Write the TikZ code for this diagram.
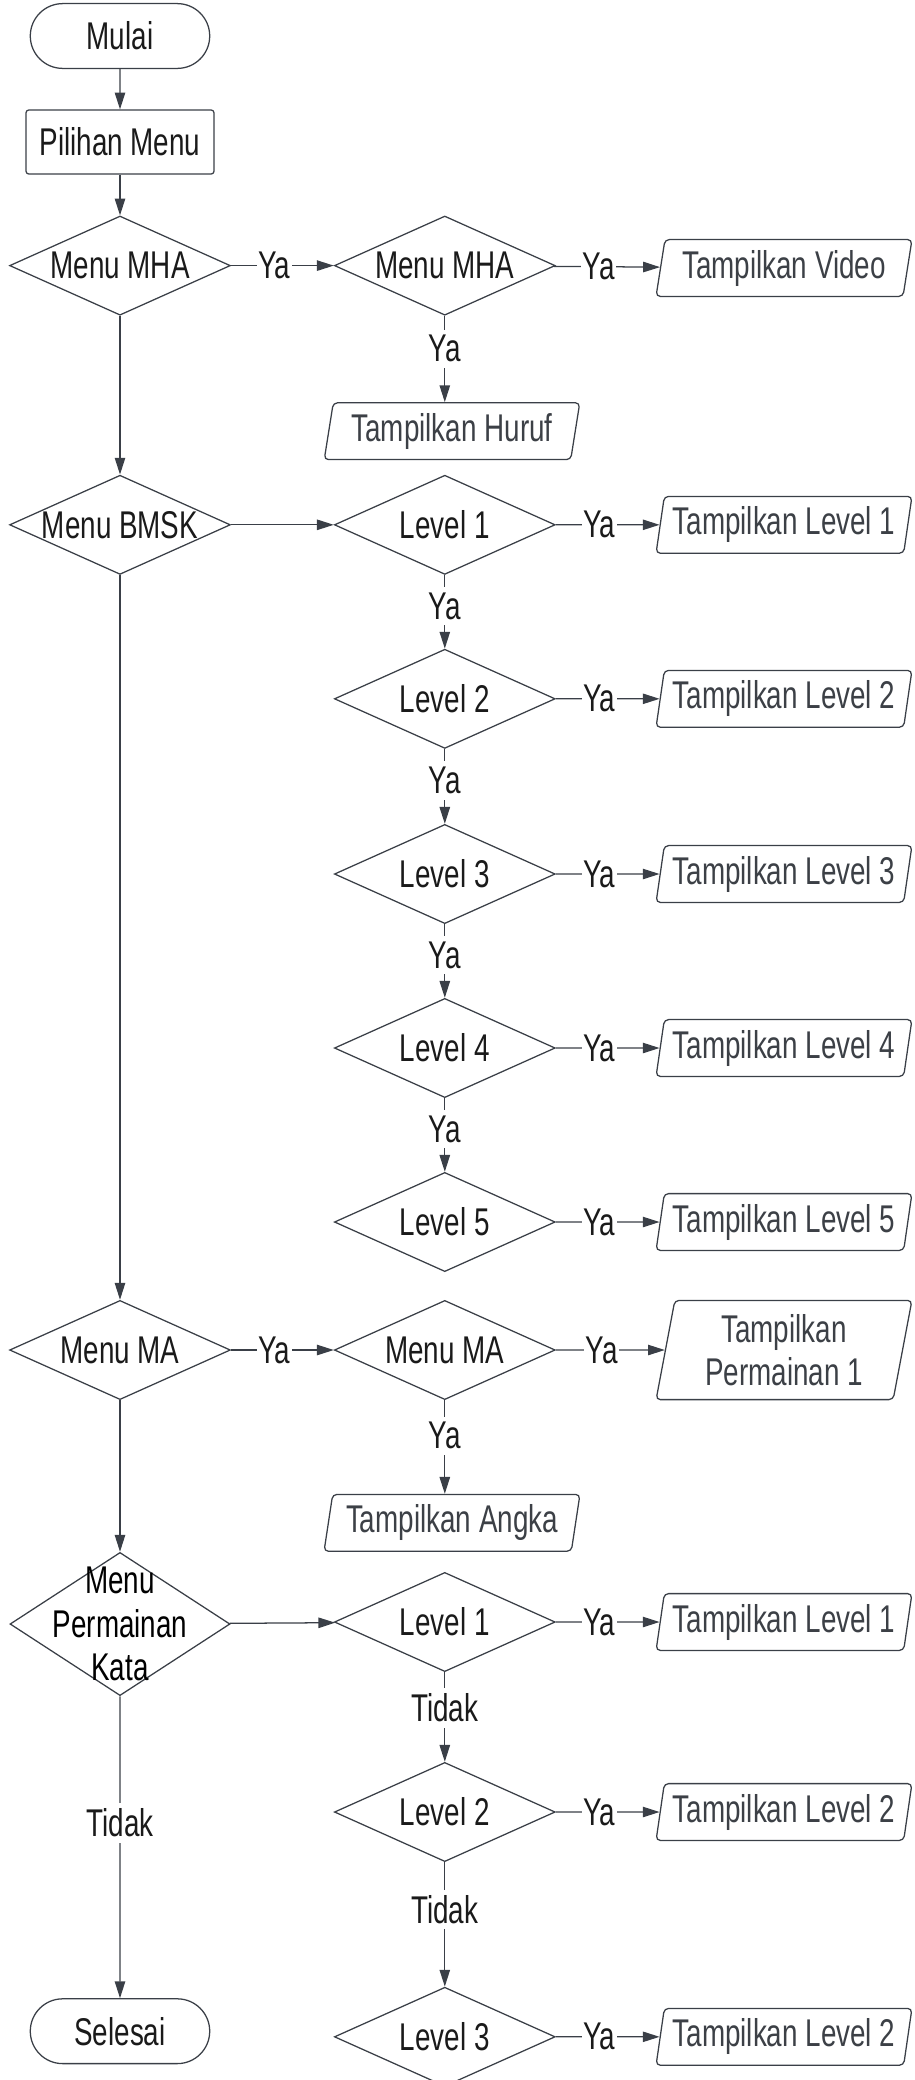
\documentclass[tikz,border=0pt]{standalone}
\usepackage{fontspec}
\setmainfont{Liberation Sans}[FakeStretch=0.72]
\usepackage{xcolor}
\definecolor{inkdark}{HTML}{1A1A1A}
\definecolor{linegray}{HTML}{3A3F47}
\definecolor{textgray}{HTML}{3C4046}
\usepackage{tikz}
\usetikzlibrary{positioning,arrows.meta,shapes.geometric,shapes.misc}

\begin{document}
\begin{tikzpicture}[
  font=\fontsize{27.5}{31}\selectfont,
  terminal/.style={
    draw=linegray, line width=0.9pt, rounded rectangle,
    minimum width=4.72cm, minimum height=1.62cm,
    text=inkdark,
  },
  procbox/.style={
    draw=linegray, line width=0.9pt, rounded corners=2pt,
    minimum width=4.7cm, minimum height=1.6cm,
    text=inkdark,
  },
  decision/.style={
    draw=linegray, line width=0.9pt,
    diamond, aspect=2.2, inner sep=0pt,
    minimum width=5.52cm, minimum height=2.48cm,
    text=inkdark,
  },
  output/.style={
    draw=linegray, line width=0.9pt,
    trapezium, trapezium left angle=80, trapezium right angle=100,
    trapezium stretches=true, rounded corners=3pt,
    minimum width=6.4cm, minimum height=1.42cm,
    text=textgray, align=center,
  },
  link/.style={draw=linegray, line width=0.9pt,
    -{Triangle[length=0.42cm,width=0.26cm]}},
  lbl/.style={fill=white, inner xsep=1pt, inner ysep=4pt, text=inkdark},
]
\useasboundingbox (0,0) rectangle (22.85,-52);

% === LEFT COLUMN: MAIN MENU ===
\node[terminal] (mulai) at (3.0,-0.9) {Mulai};
\node[procbox] (pilih) at (3.0,-3.55) {Pilihan Menu};
\node[decision] (mha) at (3.0,-6.64) {Menu MHA};
\node[decision] (bmsk) at (3.0,-13.12) {Menu BMSK};
\node[decision] (ma) at (3.0,-33.75) {Menu MA};
\node[decision, minimum width=5.5cm, minimum height=3.58cm,
  label={[align=center]center:Menu\\Permainan\\Kata}] (mpk) at (3.0,-40.6) {};
\node[terminal] (selesai) at (3.0,-50.78) {Selesai};

% === MIDDLE COLUMN: SUB MENUS AND LEVELS ===
\node[decision] (mha2) at (11.12,-6.64) {Menu MHA};
\node[output] (huruf) at (11.3,-10.78) {Tampilkan Huruf};

\node[decision] (bml1) at (11.12,-13.12) {Level 1};
\node[decision] (bml2) at (11.12,-17.47) {Level 2};
\node[decision] (bml3) at (11.12,-21.85) {Level 3};
\node[decision] (bml4) at (11.12,-26.2) {Level 4};
\node[decision] (bml5) at (11.12,-30.55) {Level 5};

\node[decision] (ma2) at (11.12,-33.75) {Menu MA};
\node[output] (angka) at (11.3,-38.07) {Tampilkan Angka};

\node[decision] (pkl1) at (11.12,-40.55) {Level 1};
\node[decision] (pkl2) at (11.12,-45.3) {Level 2};
\node[decision] (pkl3) at (11.12,-50.92) {Level 3};

% === RIGHT COLUMN: OUTPUTS ===
\node[output] (video) at (19.6,-6.7) {Tampilkan Video};
\node[output] (tbl1) at (19.6,-13.12) {Tampilkan Level 1};
\node[output] (tbl2) at (19.6,-17.47) {Tampilkan Level 2};
\node[output] (tbl3) at (19.6,-21.85) {Tampilkan Level 3};
\node[output] (tbl4) at (19.6,-26.2) {Tampilkan Level 4};
\node[output] (tbl5) at (19.6,-30.55) {Tampilkan Level 5};
\node[output, minimum height=2.48cm] (perm) at (19.6,-33.75) {Tampilkan\\Permainan 1};
\node[output] (tpl1) at (19.6,-40.55) {Tampilkan Level 1};
\node[output] (tpl2) at (19.6,-45.3) {Tampilkan Level 2};
\node[output] (tpl3) at (19.6,-50.92) {Tampilkan Level 2};

% === CONNECTORS ===
\draw[link] (mulai) -- (pilih);
\draw[link] (pilih) -- (mha);
\draw[link] (mha) -- node[lbl, pos=0.42] {Ya} (mha2);
\draw[link] (mha2) -- node[lbl, pos=0.42] {Ya} (video);
\draw[link] (mha2) -- node[lbl, pos=0.38] {Ya} (mha2 |- huruf.north);
\draw[link] (mha) -- (bmsk);

\draw[link] (bmsk) -- (bml1);
\draw[link] (bml1) -- node[lbl, pos=0.42] {Ya} (tbl1);
\draw[link] (bml1) -- node[lbl, pos=0.42] {Ya} (bml2);
\draw[link] (bml2) -- node[lbl, pos=0.42] {Ya} (tbl2);
\draw[link] (bml2) -- node[lbl, pos=0.42] {Ya} (bml3);
\draw[link] (bml3) -- node[lbl, pos=0.42] {Ya} (tbl3);
\draw[link] (bml3) -- node[lbl, pos=0.42] {Ya} (bml4);
\draw[link] (bml4) -- node[lbl, pos=0.42] {Ya} (tbl4);
\draw[link] (bml4) -- node[lbl, pos=0.42] {Ya} (bml5);
\draw[link] (bml5) -- node[lbl, pos=0.42] {Ya} (tbl5);
\draw[link] (bmsk) -- (ma);

\draw[link] (ma) -- node[lbl, pos=0.42] {Ya} (ma2);
\draw[link] (ma2) -- node[lbl, pos=0.42] {Ya} (perm);
\draw[link] (ma2) -- node[lbl, pos=0.38] {Ya} (ma2 |- angka.north);
\draw[link] (ma) -- (mpk);

\draw[link] (mpk) -- (pkl1);
\draw[link] (pkl1) -- node[lbl, pos=0.42] {Ya} (tpl1);
\draw[link] (pkl1) -- node[lbl, pos=0.4] {Tidak} (pkl2);
\draw[link] (pkl2) -- node[lbl, pos=0.42] {Ya} (tpl2);
\draw[link] (pkl2) -- node[lbl, pos=0.38] {Tidak} (pkl3);
\draw[link] (pkl3) -- node[lbl, pos=0.42] {Ya} (tpl3);
\draw[link] (mpk) -- node[lbl, pos=0.42] {Tidak} (selesai);

\end{tikzpicture}
\end{document}
